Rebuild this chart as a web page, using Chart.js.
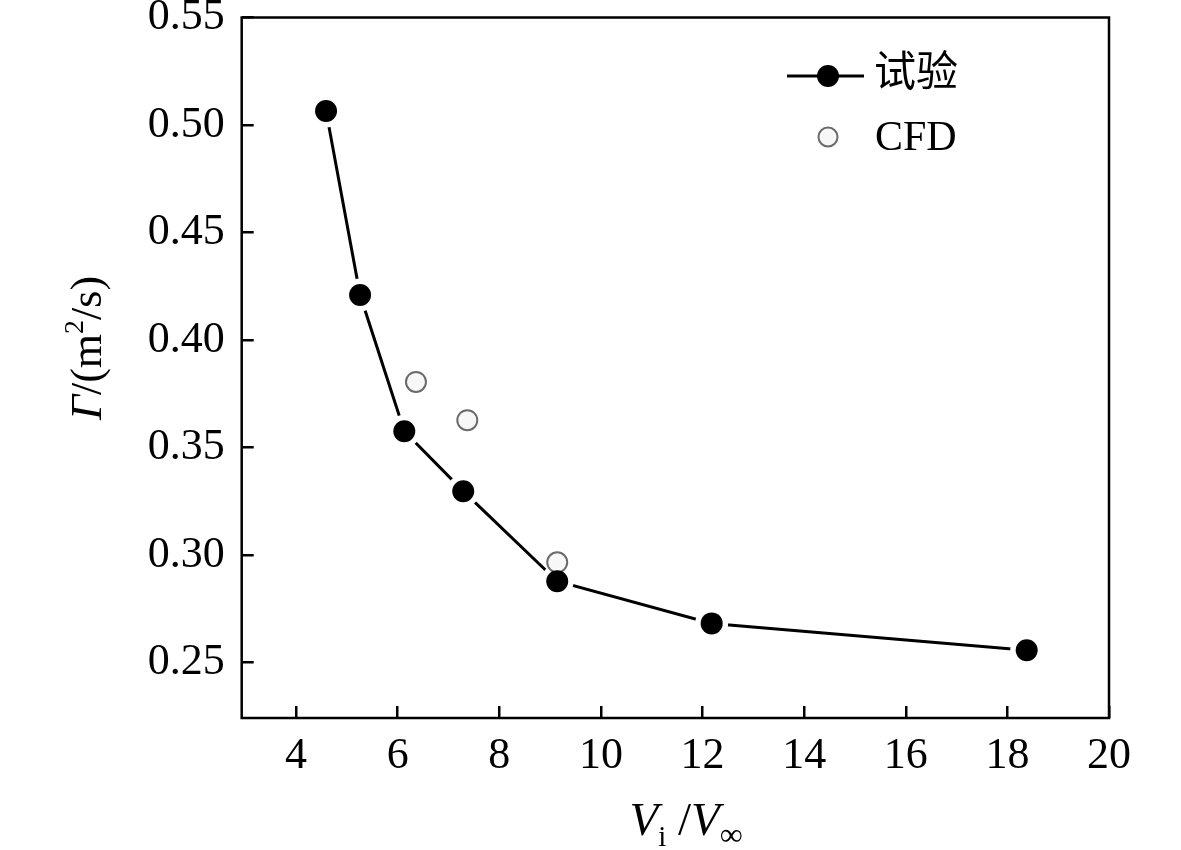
<!DOCTYPE html>
<html>
<head>
<meta charset="utf-8">
<script src="https://cdn.jsdelivr.net/npm/chart.js@4"></script>
<style>
  body { margin: 0; background: #fff; }
  canvas { display: block; }
</style>
</head>
<body>
<canvas id="myChart" width="1181" height="850"></canvas>
<script>
// data
var testX = [4.59, 5.26, 6.13, 7.29, 9.14, 12.18, 18.38];
var testY = [0.5065, 0.4209, 0.3576, 0.3297, 0.2878, 0.2682, 0.2557];
var cfdX = [6.36, 7.37, 9.14];
var cfdY = [0.3805, 0.3627, 0.2966];
var xTicks = [4, 6, 8, 10, 12, 14, 16, 18, 20];
var yTicks = [0.25, 0.30, 0.35, 0.40, 0.45, 0.50, 0.55];

var serif = '"Liberation Serif", "Times New Roman", serif';
Chart.defaults.font.family = serif;
Chart.defaults.color = '#000';

function pts(xs, ys) {
  return xs.map(function (x, i) { return { x: x, y: ys[i] }; });
}

function drawParts(ctx, parts, cx, baseY) {
  var total = 0;
  parts.forEach(function (p) { ctx.font = p[0]; total += ctx.measureText(p[1]).width; });
  var x = cx - total / 2;
  ctx.textAlign = 'left';
  ctx.textBaseline = 'alphabetic';
  parts.forEach(function (p) {
    ctx.font = p[0];
    ctx.fillText(p[1], x, baseY + p[2]);
    x += ctx.measureText(p[1]).width;
  });
}

// frame, legend and axis titles drawn on the canvas
var extras = {
  id: 'extras',
  afterDraw: function (chart) {
    var ctx = chart.ctx;
    var a = chart.chartArea;
    ctx.save();
    ctx.strokeStyle = '#000';
    ctx.lineWidth = 2.5;
    ctx.strokeRect(a.left, a.top, a.right - a.left, a.bottom - a.top);

    // legend
    ctx.lineWidth = 3;
    ctx.beginPath();
    ctx.moveTo(787, 76);
    ctx.lineTo(864, 76);
    ctx.stroke();
    ctx.fillStyle = '#000';
    ctx.beginPath();
    ctx.arc(828, 76, 11, 0, Math.PI * 2);
    ctx.fill();
    ctx.strokeStyle = '#6a6a6a';
    ctx.lineWidth = 2;
    ctx.fillStyle = '#f7f7f7';
    ctx.beginPath();
    ctx.arc(828, 137, 9.5, 0, Math.PI * 2);
    ctx.fill();
    ctx.stroke();
    ctx.fillStyle = '#000';
    ctx.textBaseline = 'alphabetic';
    ctx.textAlign = 'left';
    ctx.font = '42px ' + serif + ', "Noto Sans CJK SC"';
    ctx.fillText('试验', 874, 86);
    ctx.font = '42px ' + serif;
    ctx.fillText('CFD', 875, 150);

    // x title: V_i / V_inf
    var xp = [
      ['italic 47px ' + serif, 'V', 0],
      ['29px ' + serif, 'i', 11],
      ['47px ' + serif, ' /', 0],
      ['italic 47px ' + serif, 'V', 0],
      ['32px ' + serif, '\u221e', 10]
    ];
    drawParts(ctx, xp, 686, 835);

    // y title: Γ/(m²/s)
    ctx.save();
    ctx.translate(101, 348);
    ctx.rotate(-Math.PI / 2);
    var yp = [
      ['italic 44px ' + serif, '\u0393', 0],
      ['44px ' + serif, '/(m', 0],
      ['28px ' + serif, '2', -18],
      ['44px ' + serif, '/s)', 0]
    ];
    drawParts(ctx, yp, 0, 0);
    ctx.restore();
    ctx.restore();
  }
};

var ctx = document.getElementById('myChart').getContext('2d');
var myChart = new Chart(ctx, {
  type: 'scatter',
  data: {
    datasets: [
      {
        label: '试验',
        data: pts(testX, testY),
        order: 0,
        pointRadius: 11,
        pointBackgroundColor: '#000',
        pointBorderWidth: 0,
        showLine: false
      },
      {
        label: 'CFD',
        data: pts(cfdX, cfdY),
        order: 1,
        pointRadius: 10,
        pointBackgroundColor: '#f7f7f7',
        pointBorderColor: '#6a6a6a',
        pointBorderWidth: 2,
        showLine: false
      },
      {
        label: 'line',
        data: pts(testX, testY),
        order: 2,
        showLine: true,
        borderColor: '#000',
        borderWidth: 3,
        tension: 0,
        pointRadius: 16.5,
        pointBackgroundColor: '#fff',
        pointBorderWidth: 0
      }
    ]
  },
  options: {
    responsive: false,
    animation: false,
    devicePixelRatio: 1,
    layout: { padding: { left: 0, top: 17.5, right: 72, bottom: 0 } },
    plugins: {
      legend: { display: false },
      tooltip: { enabled: false }
    },
    scales: {
      x: {
        type: 'linear',
        min: 2.93,
        max: 20,
        afterBuildTicks: function (s) { s.ticks = xTicks.map(function (v) { return { value: v }; }); },
        afterFit: function (s) { s.height = 132; s.paddingLeft = 0; s.paddingRight = 0; },
        border: { display: false },
        grid: { drawOnChartArea: false, color: '#000', lineWidth: 2.5, tickLength: -12 },
        ticks: { font: { size: 44 }, padding: 24, color: '#000', maxRotation: 0 }
      },
      y: {
        type: 'linear',
        min: 0.2242,
        max: 0.55,
        afterBuildTicks: function (s) { s.ticks = yTicks.map(function (v) { return { value: v }; }); },
        afterFit: function (s) { s.width = 241.7; s.paddingTop = 0; s.paddingBottom = 0; },
        border: { display: false },
        grid: { drawOnChartArea: false, color: '#000', lineWidth: 2.5, tickLength: -12 },
        ticks: {
          font: { size: 44 }, padding: 29, color: '#000',
          callback: function (v) { return v.toFixed(2); }
        }
      }
    }
  },
  plugins: [extras]
});
</script>
</body>
</html>
